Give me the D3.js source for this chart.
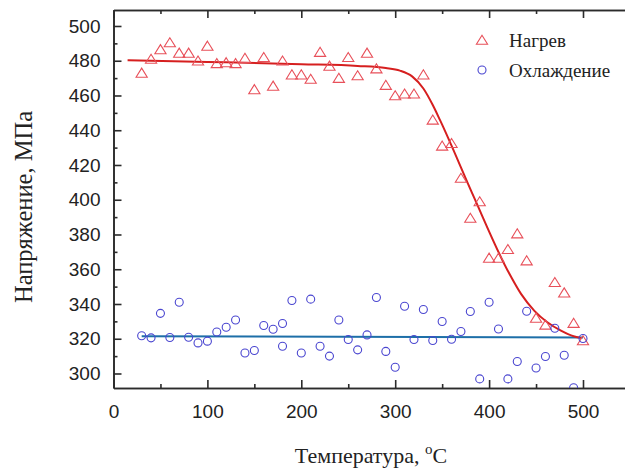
<!DOCTYPE html>
<html>
<head>
<meta charset="utf-8">
<script src="https://cdn.jsdelivr.net/npm/d3@7"></script>
<style>
	body { margin: 0; background: #fff; overflow: hidden; }
	svg { display: block; }
</style>
</head>
<body>
<div id="visDiv"></div>
<script>
// Нагрев (triangles)
var heatT = [30,40,50,60,70,80,90,100,110,120,130,140,150,160,170,180,190,200,210,220,230,240,250,260,270,280,290,300,310,320,330,340,350,360,370,380,390,400,410,420,430,440,450,460,470,480,490,500];
var heatS = [473,481,486.5,490.5,484.5,484.5,480,488.5,478.5,479,478.5,481.5,463.5,482,465.5,480,472,472,469.5,485,477,470,482,471.5,484.5,475.5,466,460,461,461,472,446,431,432.5,412.5,389.5,399,366.5,366.5,371.5,380.5,365,332,328,352.5,346.5,329,319];

// Охлаждение (circles)
var coolT = [30,40,50,60,70,80,90,100,110,120,130,140,150,160,170,180,180,190,200,210,220,230,240,250,260,270,280,290,300,310,320,330,340,350,360,370,380,390,400,410,420,430,440,450,460,470,480,490,500];
var coolS = [321.7,320.5,334.6,320.7,341,320.9,317.6,318.6,323.9,326.6,330.8,311.8,313.2,327.6,325.5,328.8,315.7,342,311.8,342.8,315.7,310,330.8,319.6,313.6,322.2,343.7,312.7,303.6,338.7,319.6,336.8,319,329.9,319.7,324.2,335.7,296.9,341,325.6,296.9,306.9,335.8,303.2,309.8,326,310.5,291.8,320.1];

// fitted curves
var heatFitT = [15,100,200,260,290,305,318,330,340,348,383,420,434,448,462,476.5,491,498];
var heatFitS = [480.3,479.3,478,477,475.8,474.3,471,464,454.5,445.5,402.5,359,345.8,336.2,329.5,324.7,321.3,320.5];
var coolFitT = [30,500];
var coolFitS = [321.5,320.7];

var xMajor = [0,100,200,300,400,500];
var xMinor = [50,150,250,350,450,550];
var yMajor = [300,320,340,360,380,400,420,440,460,480,500];
var yMinor = [310,330,350,370,390,410,430,450,470,490];

var legendNames = ['Нагрев','Охлаждение'];

(function () {
	var W = 625, H = 469,
		left = 113.5, top = 10, bottom = 388;

	var svg = d3.select('#visDiv')
		.append('svg')
			.attr('width', W)
			.attr('height', H);

	var x = d3.scaleLinear().domain([0, 550]).range([left, left + 550*0.939]);
	var y = d3.scaleLinear().domain([291.65, 509.2]).range([bottom, top]);

	var axisColor = '#2b2b2b';

	function styleAxis(g) {
		g.selectAll('path.domain').attr('stroke', axisColor).attr('stroke-width', 1.6);
		g.selectAll('.tick line').attr('stroke', axisColor).attr('stroke-width', 1.6);
		g.selectAll('.tick text')
			.attr('fill', '#222')
			.style('font-family', '"Liberation Sans", Arial, sans-serif')
			.style('font-size', '19px');
	}

	// bottom axis
	svg.append('g')
		.attr('transform', 'translate(0,' + bottom + ')')
		.call(d3.axisBottom(x).tickValues(xMajor).tickSize(-8).tickSizeOuter(0).tickPadding(17))
		.call(styleAxis);
	svg.append('g')
		.attr('transform', 'translate(0,' + bottom + ')')
		.call(d3.axisBottom(x).tickValues(xMinor).tickSize(-4).tickSizeOuter(0).tickFormat(''))
		.call(styleAxis);

	// top axis, ticks only
	svg.append('g')
		.attr('transform', 'translate(0,' + top + ')')
		.call(d3.axisTop(x).tickValues(xMajor).tickSize(-8).tickSizeOuter(0).tickFormat(''))
		.call(styleAxis);
	svg.append('g')
		.attr('transform', 'translate(0,' + top + ')')
		.call(d3.axisTop(x).tickValues(xMinor).tickSize(-4).tickSizeOuter(0).tickFormat(''))
		.call(styleAxis);

	// left axis
	svg.append('g')
		.attr('transform', 'translate(' + left + ',0)')
		.call(d3.axisLeft(y).tickValues(yMajor).tickSize(-8).tickSizeOuter(0).tickPadding(13))
		.call(styleAxis);
	svg.append('g')
		.attr('transform', 'translate(' + left + ',0)')
		.call(d3.axisLeft(y).tickValues(yMinor).tickSize(-4).tickSizeOuter(0).tickFormat(''))
		.call(styleAxis);

	// clip to plot box
	svg.append('clipPath').attr('id', 'clip')
		.append('rect')
			.attr('x', left).attr('y', top)
			.attr('width', W - left).attr('height', bottom - top);

	var plot = svg.append('g').attr('clip-path', 'url(#clip)');

	var line = d3.line()
		.x(function(d) { return x(d[0]); })
		.y(function(d) { return y(d[1]); })
		.curve(d3.curveMonotoneX);

	// open triangle, centred on its bounding box
	var tri = 'M0,-4.8L5.6,4.3L-5.6,4.3Z';

	// cooling fit
	plot.append('path')
		.datum(d3.zip(coolFitT, coolFitS))
		.attr('d', line)
		.attr('fill', 'none')
		.attr('stroke', '#1d6fa8')
		.attr('stroke-width', 2);

	// heating fit
	plot.append('path')
		.datum(d3.zip(heatFitT, heatFitS))
		.attr('d', line)
		.attr('fill', 'none')
		.attr('stroke', '#d61f1f')
		.attr('stroke-width', 2);

	plot.selectAll('path.heat')
		.data(d3.zip(heatT, heatS))
		.enter()
		.append('path')
			.attr('class', 'heat')
			.attr('transform', function(d) { return 'translate(' + x(d[0]) + ',' + y(d[1]) + ')'; })
			.attr('d', tri)
			.attr('fill', 'none')
			.attr('stroke', '#e8505a')
			.attr('stroke-width', 1.1);

	plot.selectAll('circle.cool')
		.data(d3.zip(coolT, coolS))
		.enter()
		.append('circle')
			.attr('class', 'cool')
			.attr('cx', function(d) { return x(d[0]); })
			.attr('cy', function(d) { return y(d[1]); })
			.attr('r', 4)
			.attr('fill', 'none')
			.attr('stroke', '#4a46d0')
			.attr('stroke-width', 1.1);

	// legend
	var serif = '"Liberation Serif", "Times New Roman", serif';
	var leg = svg.append('g');
	leg.append('path')
		.attr('transform', 'translate(482,40)')
		.attr('d', tri)
		.attr('fill', 'none')
		.attr('stroke', '#e8505a')
		.attr('stroke-width', 1.1);
	leg.append('circle')
		.attr('cx', 482).attr('cy', 70).attr('r', 4)
		.attr('fill', 'none')
		.attr('stroke', '#4a46d0')
		.attr('stroke-width', 1.1);
	leg.selectAll('text')
		.data(legendNames)
		.enter()
		.append('text')
			.attr('x', 509)
			.attr('y', function(d, i) { return 47 + i*29.5; })
			.style('font-family', serif)
			.style('font-size', '19px')
			.attr('fill', '#222')
			.text(function(d) { return d; });

	// axis titles
	var xt = svg.append('text')
		.attr('x', 371)
		.attr('y', 463)
		.attr('text-anchor', 'middle')
		.style('font-family', serif)
		.style('font-size', '22px')
		.attr('fill', '#222');
	xt.append('tspan').text('Температура, ');
	xt.append('tspan').attr('dy', -9).style('font-size', '15px').text('o');
	xt.append('tspan').attr('dy', 9).text('C');

	svg.append('text')
		.attr('transform', 'translate(32,207)rotate(-90)')
		.attr('text-anchor', 'middle')
		.style('font-family', serif)
		.style('font-size', '24.5px')
		.attr('fill', '#222')
		.text('Напряжение, МПа');
}());
</script>
</body>
</html>
